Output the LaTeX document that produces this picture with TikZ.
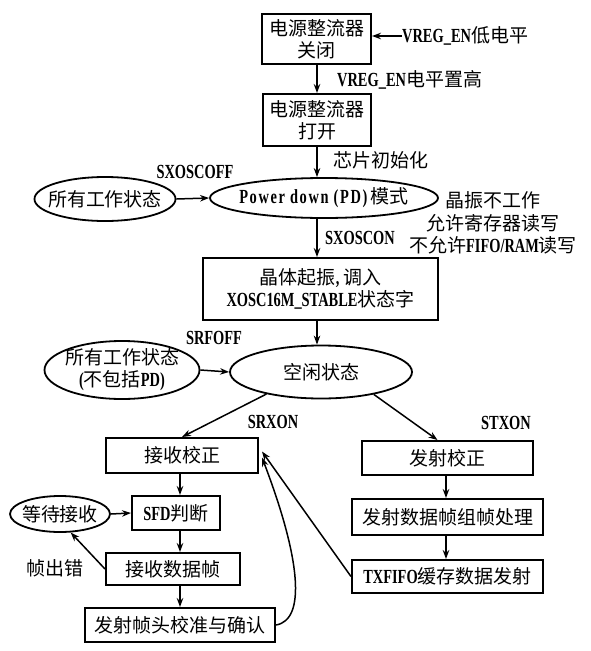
\documentclass[tikz,border=0pt]{standalone}
\usepackage{fontspec}
\setmainfont{Liberation Serif}[FakeStretch=0.72]
\newfontfamily\cjk{Noto Sans CJK SC}
\newcommand\zhx[1]{{\cjk\mdseries\fontsize{19}{22}\selectfont #1}}
\usetikzlibrary{arrows.meta,shapes.geometric,calc}
\begin{document}
\begin{tikzpicture}[x=1pt,y=-1pt,
  font=\fontsize{20}{22}\selectfont\bfseries,
  box/.style={draw,rectangle,line width=2pt,inner sep=0pt,align=center},
  oval/.style={draw,ellipse,line width=1.8pt,inner sep=0pt},
  arr/.style={line width=1.5pt,-{Stealth[length=9pt,width=6.5pt]}},
  lbl/.style={inner sep=0pt,anchor=west}]
\useasboundingbox (0,0) rectangle (591,651);
\fill[white] (0,0) rectangle (591,651);
% main column
\node[box,minimum width=109pt,minimum height=50pt] (b1) at (316.5,39) {\zhx{电源整流器}\\\zhx{关闭}};
\node[box,minimum width=108pt,minimum height=52pt] (b2) at (317,120) {\zhx{电源整流器}\\\zhx{打开}};
\node[lbl] (vin) at (402,36) {VREG\_EN\zhx{低电平}};
\node[lbl] (l1) at (337,80) {VREG\_EN\zhx{电平置高}};
\node[lbl] (l2) at (333,160) {\zhx{芯片初始化}};
\node[oval,minimum width=228pt,minimum height=40pt,label={center:{\addfontfeature{LetterSpace=8}Power down (PD)\,\zhx{模式}}}] (pd) at (324,198) {};
\node[oval,minimum width=141pt,minimum height=44pt,label={center:{\zhx{所有工作状态}}}] (all1) at (105,199) {};
\node[lbl,anchor=center] (l3) at (195,172) {SXOSCOFF};
\node[align=center,inner sep=0pt,font=\fontsize{20}{22.5}\selectfont\bfseries] (note) at (493,223) {\zhx{晶振不工作}\\\zhx{允许寄存器读写}\\\zhx{不允许}FIFO/RAM\zhx{读写}};
\node[lbl] (l4) at (325,238) {SXOSCON};
\node[box,minimum width=235pt,minimum height=62pt] (b3) at (320.5,289) {\zhx{晶体起振}, \zhx{调入}\\XOSC16M\_STABLE\zhx{状态字}};
\node[lbl,anchor=center] (l5) at (214,338) {SRFOFF};
\node[oval,minimum width=155pt,minimum height=58pt,label={[align=center]center:{\zhx{所有工作状态}\\(\zhx{不包括}PD)}}] (all2) at (122,370) {};
\node[oval,minimum width=182pt,minimum height=53pt,label={center:{\zhx{空闲状态}}}] (idle) at (321,372) {};
% receive side
\node[box,minimum width=152pt,minimum height=35pt] (rx) at (182,455.5) {\zhx{接收校正}};
\node[lbl,anchor=center] (l6) at (273,422) {SRXON};
\node[box,minimum width=88pt,minimum height=34pt] (sfd) at (176,513) {SFD\zhx{判断}};
\node[oval,minimum width=100pt,minimum height=36pt,label={center:{\zhx{等待接收}}}] (wait) at (60,514) {};
\node[box,minimum width=134pt,minimum height=32pt] (rd) at (173,569) {\zhx{接收数据帧}};
\node[lbl,anchor=center] (l8) at (55,568) {\zhx{帧出错}};
\node[box,minimum width=190pt,minimum height=34pt] (hd) at (180,625) {\zhx{发射帧头校准与确认}};
% transmit side
\node[box,minimum width=171pt,minimum height=34pt] (tx) at (447.5,458) {\zhx{发射校正}};
\node[lbl,anchor=center] (l7) at (506,423) {STXON};
\node[box,minimum width=191pt,minimum height=36pt] (fr) at (447.5,517) {\zhx{发射数据帧组帧处理}};
\node[box,minimum width=191pt,minimum height=33pt] (tf) at (447.5,576.5) {TXFIFO\zhx{缓存数据发射}};
% column coordinates
\coordinate (mx) at (317,0);
\coordinate (lx) at (180,0);
\coordinate (rxx) at (446,0);
% connectors
\draw[arr] (vin.west) -- (vin.west -| b1.east);
\draw[arr] (b1.south -| mx) -- (b2.north -| mx);
\draw[arr] (b2.south -| mx) -- (pd.north -| mx);
\draw[arr] (pd.south -| mx) -- (b3.north -| mx);
\draw[arr] (b3.south -| mx) -- (idle.north -| mx);
\draw[arr] (all1.east) -- (pd.west);
\draw[arr] (all2.east) -- (idle.west);
\draw[arr] (idle.202) -- (rx.north);
\draw[arr] (idle.337) -- ($(tx.north)+(-10,0)$);
\draw[arr] (rx.south -| lx) -- (sfd.north -| lx);
\draw[arr] (sfd.south -| lx) -- (rd.north -| lx);
\draw[arr] (rd.south -| lx) -- (hd.north -| lx);
\draw[arr] (wait.east) -- (sfd.west);
\draw[arr] (rd.west) -- (wait.300);
\draw[arr] (tf.west) -- ($(rx.east)+(3,-4)$);
\draw[arr] (hd.east) .. controls +(30,-5) and +(39,102) .. ($(rx.east)+(3,2)$);
\draw[arr] (tx.south -| rxx) -- (fr.north -| rxx);
\draw[arr] (fr.south -| rxx) -- (tf.north -| rxx);
\end{tikzpicture}
\end{document}
